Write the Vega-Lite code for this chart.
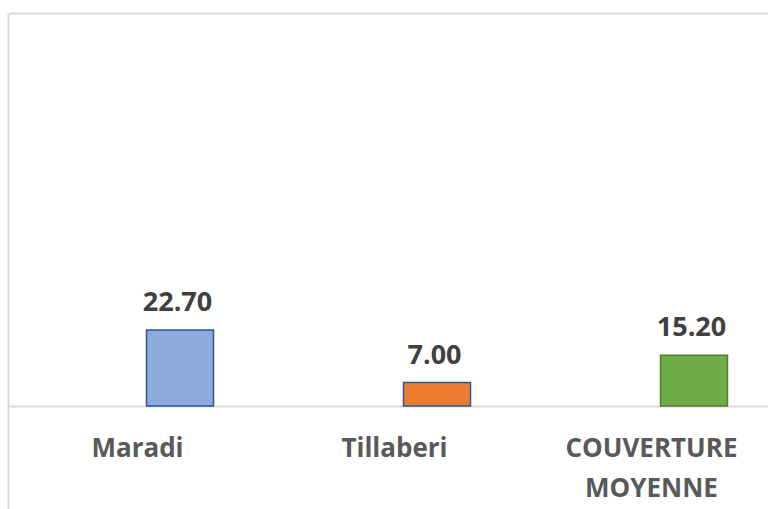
{
  "$schema": "https://vega.github.io/schema/vega-lite/v6.json",
  "autosize": "none",
  "width": 760,
  "height": 496,
  "padding": {"left": 8, "top": 13, "right": 0, "bottom": 0},
  "background": "white",
  "config": {
    "view": {"stroke": null},
    "font": "Open Sans"
  },
  "data": {
    "values": [
      {"region": "Maradi", "couverture": 22.7},
      {"region": "Tillaberi", "couverture": 7.0},
      {"region": "COUVERTURE MOYENNE", "couverture": 15.2}
    ]
  },
  "encoding": {
    "x": {
      "field": "region",
      "type": "nominal",
      "sort": null,
      "scale": {"range": [1, 772], "paddingInner": 0, "paddingOuter": 0}
    },
    "y": {
      "field": "couverture",
      "type": "quantitative",
      "scale": {"domain": [-30.76, 117.4], "nice": false, "zero": false},
      "axis": {
        "title": null,
        "labels": false,
        "ticks": false,
        "grid": false,
        "domain": true,
        "domainColor": "#d9d9d9",
        "domainWidth": 2
      }
    }
  },
  "layer": [
    {
      "mark": {"type": "bar", "size": 67, "xOffset": 42.5, "strokeWidth": 1.5},
      "encoding": {
        "y2": {"datum": 0},
        "color": {
          "field": "region",
          "type": "nominal",
          "legend": null,
          "scale": {
            "domain": ["Maradi", "Tillaberi", "COUVERTURE MOYENNE"],
            "range": ["#8faadc", "#ed7d31", "#70ad47"]
          }
        },
        "stroke": {
          "field": "region",
          "type": "nominal",
          "legend": null,
          "scale": {
            "domain": ["Maradi", "Tillaberi", "COUVERTURE MOYENNE"],
            "range": ["#2f5597", "#2f5597", "#507e32"]
          }
        },
        "x": {
          "field": "region",
          "type": "nominal",
          "sort": null,
          "axis": {
            "orient": "bottom",
            "offset": -103,
            "title": null,
            "ticks": false,
            "domainColor": "#d9d9d9",
            "domainWidth": 2,
            "labelAngle": 0,
            "labelFont": "Open Sans",
            "labelFontSize": 26,
            "labelFontWeight": "bold",
            "labelColor": "#595959",
            "labelPadding": 29,
            "labelBaseline": "top",
            "labelLineHeight": 40,
            "labelLimit": 0,
            "labelBound": false,
            "labelOverlap": false,
            "labelExpr": "datum.label == 'COUVERTURE MOYENNE' ? ['COUVERTURE', 'MOYENNE'] : datum.label"
          }
        }
      }
    },
    {
      "mark": {
        "type": "text",
        "xOffset": 40,
        "dy": -19,
        "baseline": "alphabetic",
        "font": "Open Sans",
        "fontSize": 27,
        "fontWeight": "bold",
        "color": "#404040"
      },
      "encoding": {
        "text": {"field": "couverture", "type": "quantitative", "format": ".2f"},
        "x": {
          "field": "region",
          "type": "nominal",
          "sort": null,
          "axis": {
            "orient": "top",
            "title": null,
            "labels": false,
            "ticks": false,
            "domainColor": "#d9d9d9",
            "domainWidth": 2
          }
        }
      }
    }
  ],
  "resolve": {"axis": {"x": "independent"}}
}
